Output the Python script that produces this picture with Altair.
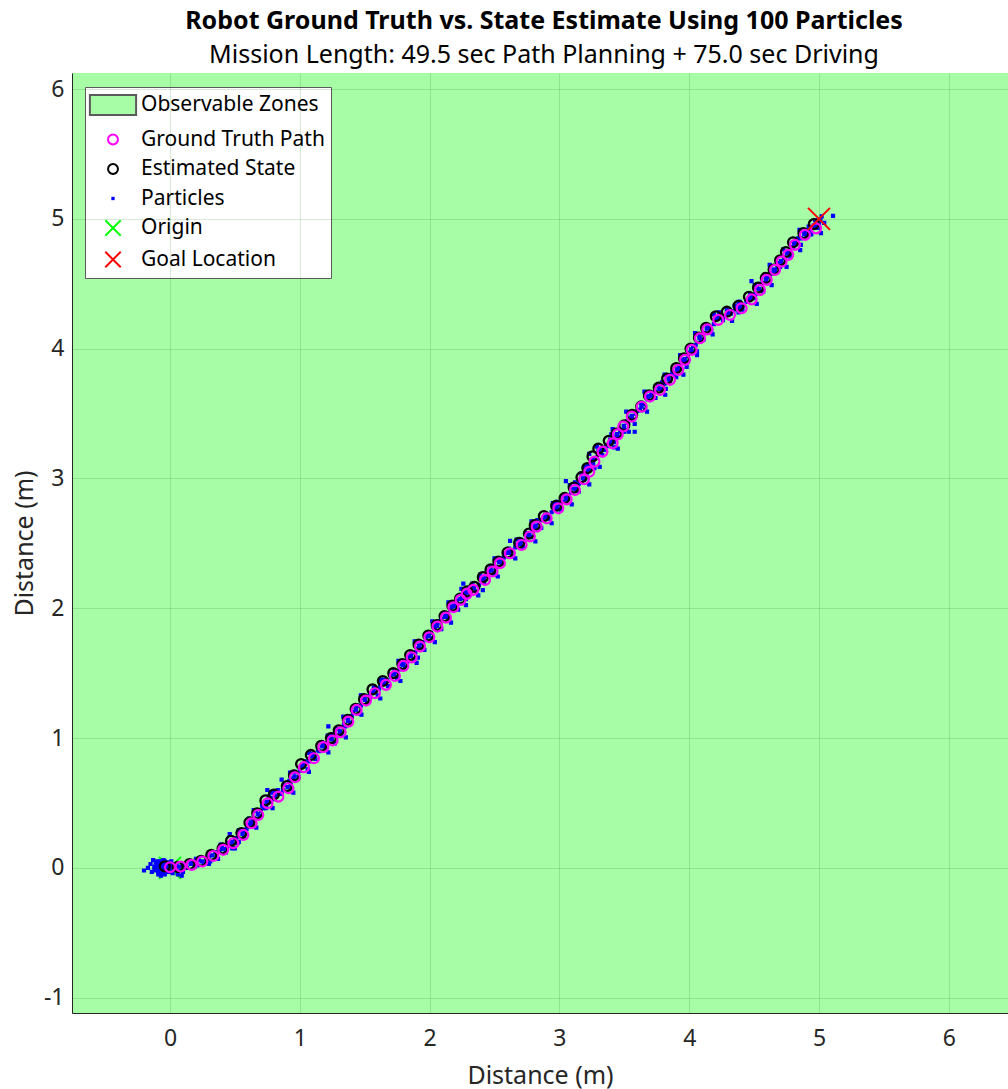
import altair as alt
import pandas as pd

# ---------------- data ----------------
series_names = ["Observable Zones", "Ground Truth Path", "Estimated State",
                "Particles", "Origin", "Goal Location"]

gt_x = [0.000, 0.082, 0.167, 0.249, 0.334, 0.410, 0.488, 0.565, 0.629, 0.680,
        0.752, 0.835, 0.912, 0.963, 1.032, 1.109, 1.181, 1.253, 1.315, 1.374,
        1.438, 1.510, 1.579, 1.664, 1.733, 1.798, 1.862, 1.926, 1.998, 2.060,
        2.126, 2.183, 2.239, 2.286, 2.337, 2.427, 2.485, 2.542, 2.619, 2.709,
        2.773, 2.825, 2.902, 2.992, 3.056, 3.120, 3.190, 3.230, 3.270, 3.332,
        3.410, 3.450, 3.492, 3.557, 3.634, 3.698, 3.775, 3.852, 3.916, 3.968,
        4.019, 4.083, 4.140, 4.224, 4.314, 4.404, 4.481, 4.545, 4.597, 4.661,
        4.712, 4.763, 4.815, 4.892, 4.977]
gt_y = [0.005, 0.010, 0.023, 0.049, 0.092, 0.139, 0.190, 0.254, 0.344, 0.408,
        0.498, 0.549, 0.614, 0.698, 0.776, 0.845, 0.930, 0.981, 1.045, 1.127,
        1.217, 1.289, 1.346, 1.410, 1.479, 1.556, 1.622, 1.705, 1.777, 1.859,
        1.928, 2.008, 2.065, 2.111, 2.142, 2.219, 2.283, 2.347, 2.424, 2.488,
        2.553, 2.629, 2.693, 2.770, 2.839, 2.912, 2.994, 3.052, 3.130, 3.207,
        3.271, 3.340, 3.400, 3.477, 3.553, 3.631, 3.682, 3.760, 3.837, 3.914,
        3.991, 4.080, 4.149, 4.222, 4.260, 4.311, 4.380, 4.453, 4.530, 4.607,
        4.671, 4.723, 4.800, 4.877, 4.927]

est_x = [-0.040, 0.060, 0.150, 0.240, 0.318, 0.405, 0.470, 0.550, 0.612, 0.672,
         0.735, 0.800, 0.900, 0.955, 1.010, 1.085, 1.165, 1.240, 1.300, 1.370,
         1.430, 1.495, 1.560, 1.640, 1.720, 1.790, 1.850, 1.915, 1.990, 2.055,
         2.115, 2.175, 2.235, 2.290, 2.345, 2.410, 2.470, 2.530, 2.600, 2.690,
         2.765, 2.810, 2.880, 2.975, 3.040, 3.110, 3.170, 3.215, 3.255, 3.300,
         3.380, 3.440, 3.500, 3.560, 3.630, 3.690, 3.765, 3.830, 3.900, 3.960,
         4.010, 4.075, 4.130, 4.205, 4.290, 4.380, 4.460, 4.530, 4.590, 4.650,
         4.700, 4.745, 4.800, 4.880, 4.960]
est_y = [0.012, 0.008, 0.030, 0.055, 0.100, 0.150, 0.208, 0.268, 0.350, 0.420,
         0.520, 0.565, 0.630, 0.712, 0.800, 0.870, 0.940, 1.000, 1.060, 1.140,
         1.225, 1.300, 1.375, 1.440, 1.500, 1.570, 1.640, 1.720, 1.790, 1.870,
         1.940, 2.020, 2.075, 2.130, 2.165, 2.240, 2.300, 2.360, 2.430, 2.505,
         2.575, 2.640, 2.710, 2.790, 2.850, 2.930, 3.010, 3.080, 3.170, 3.230,
         3.290, 3.345, 3.410, 3.490, 3.555, 3.640, 3.700, 3.770, 3.850, 3.925,
         4.000, 4.085, 4.160, 4.250, 4.285, 4.330, 4.400, 4.470, 4.545, 4.610,
         4.680, 4.745, 4.820, 4.890, 4.960]

particles = [
    # cloud around the origin
    (-0.20, -0.02), (-0.17, 0.00), (-0.15, 0.03), (-0.14, -0.03), (-0.12, 0.01),
    (-0.11, 0.04), (-0.10, -0.01), (-0.09, 0.02), (-0.08, -0.04), (-0.08, 0.05),
    (-0.07, 0.00), (-0.06, 0.03), (-0.06, -0.02), (-0.05, 0.01), (-0.05, 0.06),
    (-0.04, -0.05), (-0.04, 0.02), (-0.03, -0.01), (-0.03, 0.04), (-0.02, 0.00),
    (-0.02, -0.03), (-0.01, 0.02), (0.00, -0.02), (0.00, 0.04), (0.01, 0.01),
    (0.02, -0.04), (0.03, 0.03), (0.04, -0.01), (0.06, -0.05), (0.09, -0.06),
    (-0.13, 0.06), (-0.07, -0.06), (-0.11, -0.02), (-0.10, 0.02), (-0.09, -0.03),
    (-0.08, 0.01), (-0.07, 0.03), (-0.07, -0.02), (-0.06, 0.00), (-0.05, -0.03),
    (-0.05, 0.03), (-0.04, 0.00), (-0.03, 0.02), (-0.03, -0.03), (-0.02, 0.03),
    (-0.01, -0.01), (-0.01, 0.04), (0.01, -0.03), (0.02, 0.02), (-0.12, -0.01),
    (-0.10, 0.05), (-0.09, -0.05), (-0.06, 0.05), (-0.04, 0.05), (0.01, 0.05),
    # spread along the path
    (0.05, 0.03), (0.08, -0.02), (0.12, 0.00), (0.16, 0.04), (0.19, 0.01),
    (0.22, 0.06), (0.26, 0.03), (0.29, 0.08), (0.31, 0.05), (0.35, 0.12),
    (0.37, 0.07), (0.40, 0.16), (0.43, 0.12), (0.45, 0.19), (0.48, 0.15),
    (0.50, 0.23), (0.53, 0.20), (0.55, 0.29), (0.57, 0.24), (0.60, 0.33),
    (0.61, 0.38), (0.64, 0.36), (0.66, 0.44), (0.69, 0.40), (0.71, 0.48),
    (0.74, 0.46), (0.76, 0.55), (0.78, 0.58), (0.80, 0.53), (0.83, 0.60),
    (0.86, 0.57), (0.88, 0.64), (0.92, 0.67), (0.94, 0.61), (0.96, 0.74),
    (0.99, 0.70), (1.01, 0.78), (1.04, 0.82), (1.06, 0.76), (1.09, 0.88),
    (1.12, 0.84), (1.14, 0.91), (1.17, 0.97), (1.20, 0.92), (1.22, 1.00),
    (1.25, 1.03), (1.27, 0.96), (1.29, 1.07), (1.32, 1.02), (1.34, 1.10),
    (1.36, 1.16), (1.39, 1.12), (1.41, 1.20), (1.44, 1.25), (1.46, 1.19),
    (1.49, 1.31), (1.52, 1.27), (1.54, 1.34), (1.57, 1.39), (1.60, 1.33),
    (1.62, 1.41), (1.65, 1.45), (1.68, 1.40), (1.70, 1.49), (1.73, 1.52),
    (1.75, 1.46), (1.78, 1.57), (1.81, 1.54), (1.83, 1.61), (1.86, 1.66),
    (1.88, 1.60), (1.91, 1.69), (1.94, 1.74), (1.96, 1.68), (1.99, 1.81),
    (2.02, 1.77), (2.04, 1.85), (2.07, 1.90), (2.09, 1.84), (2.12, 1.95),
    (2.15, 1.92), (2.17, 2.01), (2.20, 2.05), (2.22, 1.99), (2.25, 2.10),
    (2.28, 2.07), (2.30, 2.15), (2.33, 2.19), (2.36, 2.13), (2.39, 2.23),
    (2.42, 2.20), (2.44, 2.28), (2.47, 2.32), (2.50, 2.26), (2.53, 2.37),
    (2.56, 2.34), (2.58, 2.42), (2.61, 2.46), (2.64, 2.40), (2.67, 2.49),
    (2.70, 2.53), (2.72, 2.47), (2.75, 2.58), (2.78, 2.55), (2.80, 2.64),
    (2.83, 2.68), (2.86, 2.62), (2.89, 2.72), (2.92, 2.69), (2.95, 2.78),
    (2.98, 2.82), (3.01, 2.76), (3.03, 2.87), (3.06, 2.84), (3.09, 2.93),
    (3.12, 2.97), (3.15, 2.90), (3.17, 3.04), (3.20, 3.00), (3.22, 3.10),
    (3.25, 3.14), (3.27, 3.08), (3.30, 3.21), (3.33, 3.18), (3.36, 3.26),
    (3.39, 3.30), (3.42, 3.24), (3.44, 3.33), (3.47, 3.37), (3.50, 3.36),
    (3.52, 3.44), (3.55, 3.47), (3.58, 3.42), (3.60, 3.52), (3.63, 3.58),
    (3.66, 3.53), (3.68, 3.63), (3.71, 3.66), (3.74, 3.62), (3.76, 3.71),
    (3.79, 3.74), (3.82, 3.69), (3.84, 3.79), (3.87, 3.82), (3.90, 3.78),
    (3.92, 3.87), (3.95, 3.91), (3.98, 3.86), (4.00, 3.97), (4.03, 4.02),
    (4.06, 3.98), (4.08, 4.10), (4.11, 4.07), (4.14, 4.18), (4.17, 4.14),
    (4.20, 4.24), (4.23, 4.28), (4.26, 4.22), (4.29, 4.30), (4.32, 4.27),
    (4.35, 4.33), (4.38, 4.36), (4.41, 4.30), (4.44, 4.37), (4.47, 4.42),
    (4.50, 4.39), (4.52, 4.47), (4.55, 4.50), (4.57, 4.44), (4.60, 4.55),
    (4.63, 4.58), (4.66, 4.60), (4.68, 4.66), (4.70, 4.63), (4.73, 4.70),
    (4.76, 4.75), (4.78, 4.71), (4.81, 4.82), (4.84, 4.85), (4.86, 4.80),
    (4.89, 4.90), (4.92, 4.94), (4.94, 4.88), (4.97, 4.99), (5.00, 4.96),
    (5.02, 5.02), (5.04, 4.97), (5.108, 5.023),
    # close to the track centre, between markers
    (0.04, 0.01), (0.10, 0.02), (0.13, 0.00), (0.20, 0.04), (0.21, 0.02),
    (0.28, 0.06), (0.30, 0.09), (0.36, 0.10), (0.38, 0.13), (0.44, 0.15),
    (0.46, 0.17), (0.51, 0.22), (0.52, 0.19), (0.58, 0.28), (0.59, 0.30),
    (0.63, 0.33), (0.65, 0.38), (0.70, 0.44), (0.72, 0.46), (0.77, 0.51),
    (0.79, 0.54), (0.84, 0.57), (0.87, 0.60), (0.93, 0.64), (0.95, 0.69),
    (1.00, 0.75), (1.03, 0.79), (1.07, 0.82), (1.10, 0.86), (1.15, 0.90),
    (1.18, 0.94), (1.21, 0.96), (1.24, 1.00), (1.28, 1.02), (1.31, 1.05),
    (1.35, 1.09), (1.37, 1.14), (1.40, 1.17), (1.43, 1.22), (1.47, 1.25),
    (1.50, 1.30), (1.54, 1.31), (1.56, 1.36), (1.61, 1.38), (1.63, 1.43),
    (1.67, 1.44), (1.70, 1.47), (1.74, 1.51), (1.77, 1.53), (1.80, 1.57),
    (1.83, 1.59), (1.85, 1.64), (1.89, 1.66), (1.92, 1.71), (1.95, 1.73),
    (1.97, 1.78), (2.01, 1.81), (2.03, 1.86), (2.06, 1.88), (2.09, 1.92),
    (2.13, 1.94), (2.16, 1.99), (2.19, 2.02), (2.21, 2.06), (2.25, 2.08),
    (2.27, 2.12), (2.31, 2.13), (2.34, 2.16), (2.38, 2.18), (2.40, 2.22),
    (2.45, 2.25), (2.46, 2.29), (2.51, 2.31), (2.54, 2.36), (2.57, 2.39),
    (2.60, 2.43), (2.63, 2.44), (2.66, 2.47), (2.70, 2.50), (2.73, 2.52),
    (2.76, 2.56), (2.79, 2.60), (2.81, 2.62), (2.84, 2.66), (2.87, 2.68),
    (2.91, 2.71), (2.94, 2.74), (2.97, 2.76), (3.00, 2.80), (3.03, 2.82),
    (3.06, 2.86), (3.09, 2.89), (3.13, 2.92), (3.15, 2.96), (3.19, 2.99),
    (3.21, 3.04), (3.24, 3.07), (3.26, 3.11), (3.29, 3.16), (3.31, 3.19),
    (3.35, 3.22), (3.38, 3.25), (3.42, 3.28), (3.45, 3.32), (3.47, 3.36),
    (3.50, 3.39), (3.53, 3.43), (3.56, 3.46), (3.59, 3.50), (3.62, 3.53),
    (3.65, 3.57), (3.68, 3.61), (3.71, 3.64), (3.74, 3.67), (3.78, 3.69),
    (3.81, 3.73), (3.85, 3.75), (3.88, 3.79), (3.91, 3.83), (3.93, 3.86),
    (3.97, 3.90), (3.99, 3.94), (4.02, 3.98), (4.05, 4.03), (4.09, 4.07),
    (4.12, 4.12), (4.15, 4.16), (4.19, 4.19), (4.22, 4.24), (4.26, 4.24),
    (4.30, 4.26), (4.34, 4.29), (4.37, 4.31), (4.41, 4.33), (4.45, 4.36),
    (4.48, 4.40), (4.51, 4.42), (4.54, 4.46), (4.56, 4.50), (4.59, 4.53),
    (4.62, 4.57), (4.65, 4.61), (4.68, 4.63), (4.71, 4.67), (4.74, 4.70),
    (4.77, 4.74), (4.80, 4.78), (4.83, 4.82), (4.86, 4.85), (4.90, 4.88),
    (4.93, 4.91), (4.96, 4.95), (4.99, 4.93), (5.01, 4.99),
    # inside the markers
    (-0.02, 0.01), (0.07, 0.01), (0.16, 0.03), (0.245, 0.05), (0.326, 0.096),
    (0.408, 0.145), (0.479, 0.199), (0.558, 0.261), (0.62, 0.347), (0.676, 0.414),
    (0.743, 0.509), (0.818, 0.557), (0.906, 0.622), (0.959, 0.705), (1.021, 0.788),
    (1.097, 0.858), (1.173, 0.935), (1.247, 0.99), (1.308, 1.052), (1.372, 1.133),
    (1.434, 1.221), (1.503, 1.294), (1.57, 1.36), (1.652, 1.425), (1.727, 1.49),
    (1.794, 1.563), (1.856, 1.631), (1.921, 1.712), (1.994, 1.783), (2.058, 1.864),
    (2.12, 1.934), (2.179, 2.014), (2.237, 2.07), (2.288, 2.12), (2.341, 2.153),
    (2.418, 2.23), (2.478, 2.291), (2.536, 2.353), (2.61, 2.427), (2.70, 2.496),
    (2.769, 2.564), (2.818, 2.634), (2.891, 2.701), (2.984, 2.78), (3.048, 2.844),
    (3.115, 2.921), (3.18, 3.002), (3.222, 3.066), (3.262, 3.15), (3.316, 3.218),
    (3.395, 3.28), (3.445, 3.342), (3.496, 3.405), (3.558, 3.483), (3.632, 3.554),
    (3.694, 3.635), (3.77, 3.691), (3.841, 3.765), (3.908, 3.843), (3.964, 3.919),
    (4.014, 3.995), (4.079, 4.082), (4.135, 4.154), (4.214, 4.236), (4.302, 4.272),
    (4.392, 4.32), (4.47, 4.39), (4.537, 4.461), (4.593, 4.537), (4.655, 4.608),
    (4.706, 4.675), (4.754, 4.734), (4.807, 4.81), (4.886, 4.883), (4.968, 4.943),
    # fringe on either side of the track
    (0.10, -0.03), (0.20, 0.07), (0.30, 0.03), (0.39, 0.18), (0.50, 0.15),
    (0.53, 0.29), (0.665, 0.31), (0.645, 0.445), (0.79, 0.46), (0.80, 0.59),
    (0.95, 0.58), (0.925, 0.735), (1.07, 0.74), (1.07, 0.885), (1.22, 0.89),
    (1.215, 1.02), (1.355, 1.005), (1.335, 1.165), (1.475, 1.18), (1.47, 1.33),
    (1.62, 1.305), (1.625, 1.45), (1.775, 1.44), (1.76, 1.595), (1.90, 1.58),
    (1.885, 1.745), (2.04, 1.74), (2.02, 1.90), (2.165, 1.89), (2.145, 2.045),
    (2.28, 2.025), (2.245, 2.15), (2.375, 2.10), (2.39, 2.26), (2.525, 2.245),
    (2.50, 2.385), (2.66, 2.385), (2.67, 2.53), (2.815, 2.515), (2.785, 2.67),
    (2.94, 2.655), (2.95, 2.81), (3.095, 2.80), (3.08, 2.95), (3.23, 2.955),
    (3.19, 3.09), (3.31, 3.09), (3.29, 3.245), (3.45, 3.23), (3.41, 3.38),
    (3.535, 3.36), (3.515, 3.515), (3.675, 3.515), (3.655, 3.67), (3.815, 3.645),
    (3.81, 3.80), (3.955, 3.80), (3.93, 3.95), (4.06, 3.95), (4.045, 4.12),
    (4.18, 4.11), (4.19, 4.265), (4.33, 4.215), (4.39, 4.36), (4.52, 4.345),
    (4.505, 4.49), (4.635, 4.49), (4.62, 4.645), (4.75, 4.63), (4.725, 4.765),
    (4.855, 4.76), (4.85, 4.915), (5.015, 4.89),
    # scattered outliers
    (0.46, 0.26), (0.86, 0.68), (1.22, 1.09), (2.26, 2.19), (2.41, 2.14),
    (3.05, 2.98), (3.58, 3.36), (3.23, 3.19), (4.48, 4.52), (4.38, 4.28),
    (3.40, 3.34), (3.41, 3.31), (1.91, 1.62), (2.62, 2.52), (0.75, 0.60),
]
particle_x = [p[0] for p in particles]
particle_y = [p[1] for p in particles]

origin_x, origin_y = [0.0], [0.0]
goal_x, goal_y = [5.0], [5.0]
zone_x, zone_x2 = [-1.5], [7.5]
zone_y, zone_y2 = [-1.5], [7.0]

x_ticks = [0, 1, 2, 3, 4, 5, 6]
y_ticks = [-1, 0, 1, 2, 3, 4, 5, 6]
x_domain = [-0.755, 6.456]
y_domain = [-1.118, 6.124]

# ---------------- styling ----------------
RECT_PATH = "M-2.1,-0.92H2.1V0.92H-2.1Z"
CIRC_PATH = "M-0.45,0A0.45,0.45 0 1,0 0.45,0A0.45,0.45 0 1,0 -0.45,0Z"
DOT_PATH = "M-0.06,-0.06H0.06V0.06H-0.06Z"
X_PATH = "M-0.7,-0.7L0.7,0.7M-0.7,0.7L0.7,-0.7"

stroke_scale = alt.Scale(domain=series_names,
                         range=["#5a5a5a", "#ff00ff", "#000000", "#0000ff", "#00ff00", "#ff0000"])
fill_scale = alt.Scale(domain=series_names,
                       range=["#a6fda6", "transparent", "transparent", "#0000ff", "transparent", "transparent"])
shape_scale = alt.Scale(domain=series_names,
                        range=[RECT_PATH, CIRC_PATH, CIRC_PATH, DOT_PATH, X_PATH, X_PATH])

xs = alt.Scale(domain=x_domain, nice=False, zero=False)
ys = alt.Scale(domain=y_domain, nice=False, zero=False)

x_axis = alt.Axis(values=x_ticks, title="Distance (m)", labelExpr="'' + datum.value",
                  labelPadding=14, titlePadding=13, zindex=1, grid=True)
y_axis = alt.Axis(values=y_ticks, title="Distance (m)", labelExpr="'' + datum.value",
                  labelPadding=8, titlePadding=6, zindex=1, grid=True)


def enc_common(with_shape=True):
    d = dict(
        stroke=alt.Stroke("series:N", scale=stroke_scale, legend=alt.Legend(title=None)),
        fill=alt.Fill("series:N", scale=fill_scale, legend=alt.Legend(title=None)),
    )
    if with_shape:
        d["shape"] = alt.Shape("series:N", scale=shape_scale, legend=alt.Legend(title=None))
    return d


zone_df = pd.DataFrame({"x": zone_x, "x2": zone_x2, "y": zone_y, "y2": zone_y2,
                        "series": [series_names[0]]})
gt_df = pd.DataFrame({"x": gt_x, "y": gt_y, "series": series_names[1]})
est_df = pd.DataFrame({"x": est_x, "y": est_y, "series": series_names[2]})
part_df = pd.DataFrame({"x": particle_x, "y": particle_y, "series": series_names[3]})
origin_df = pd.DataFrame({"x": origin_x, "y": origin_y, "series": series_names[4]})
goal_df = pd.DataFrame({"x": goal_x, "y": goal_y, "series": series_names[5]})

zone = alt.Chart(zone_df).mark_rect(strokeWidth=0, clip=True).encode(
    x=alt.X("x:Q", scale=xs, axis=x_axis), x2="x2:Q",
    y=alt.Y("y:Q", scale=ys, axis=y_axis), y2="y2:Q",
    **enc_common(with_shape=False))


def points(df, size, sw):
    return alt.Chart(df).mark_point(size=size, strokeWidth=sw, opacity=1, clip=True).encode(
        x=alt.X("x:Q", scale=xs), y=alt.Y("y:Q", scale=ys), **enc_common())


origin = points(origin_df, 988, 2)
parts = points(part_df, 2500, 1.2)
est = points(est_df, 484, 2.3)
gt = points(gt_df, 484, 2.2)
goal = points(goal_df, 988, 2)

title = alt.TitleParams(
    text="Robot Ground Truth vs. State Estimate Using 100 Particles",
    subtitle="Mission Length: 49.5 sec Path Planning + 75.0 sec Driving",
    font="Noto Sans", fontSize=25, fontWeight="bold", color="black",
    subtitleFont="Noto Sans", subtitleFontSize=25, subtitleFontWeight="normal",
    subtitleColor="black", subtitlePadding=9, anchor="middle", offset=5, dx=4)

chart = alt.layer(zone, origin, parts, est, gt, goal).properties(
    width=936, height=940, title=title,
    autosize=alt.AutoSizeParams(type="none"),
    padding={"left": 72, "top": 73, "right": 0, "bottom": 76},
).configure_view(stroke="#c8c8c8", strokeWidth=1).configure_axis(
    domainColor="#262626", domainWidth=1, grid=True, gridColor="#006400", gridOpacity=0.15,
    labelFont="Noto Sans", labelFontSize=23, labelColor="#262626",
    titleFont="Noto Sans", titleFontSize=25, titleFontWeight="normal", titleColor="#262626",
    ticks=False, tickSize=0,
).configure_legend(
    orient="none", legendX=13, legendY=14, padding=6, fillColor="white",
    strokeColor="#5a5a5a", labelFont="Noto Sans", labelFontSize=21, labelColor="black",
    labelLimit=0, symbolSize=484, symbolStrokeWidth=2, symbolOffset=10, labelOffset=16,
    rowPadding=7.5, symbolOpacity=1, symbolFillColor="transparent", symbolStrokeColor="black",
)

chart.save("out.html", embed_options={"renderer": "svg", "actions": False})
